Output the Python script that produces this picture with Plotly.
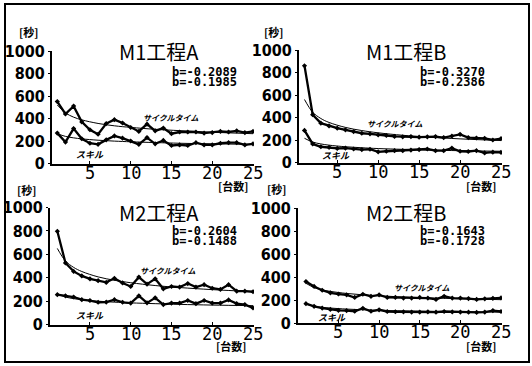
import plotly.graph_objects as go

units = list(range(1, 26))

# M1工程A
p1_cycle = [550, 440, 510, 370, 300, 260, 355, 390, 360, 320, 285, 350, 290, 315, 265, 280, 280, 280, 270, 275, 285, 280, 290, 275, 285]
p1_skill = [270, 190, 310, 220, 180, 170, 210, 245, 225, 200, 170, 230, 175, 205, 160, 165, 160, 185, 165, 165, 180, 185, 185, 165, 175]
# M1工程B
p2_cycle = [860, 425, 350, 325, 305, 290, 275, 260, 255, 245, 240, 232, 228, 230, 225, 228, 230, 222, 235, 250, 222, 218, 215, 200, 212]
p2_skill = [285, 165, 140, 135, 125, 128, 120, 115, 118, 95, 100, 105, 105, 110, 115, 120, 105, 105, 128, 100, 98, 105, 85, 92, 90]
# M2工程A
p3_cycle = [797, 526, 454, 415, 390, 375, 360, 395, 355, 325, 405, 345, 390, 305, 325, 320, 350, 320, 340, 310, 300, 340, 285, 285, 280]
p3_skill = [255, 245, 235, 212, 205, 190, 192, 212, 190, 183, 245, 185, 228, 170, 183, 183, 205, 178, 205, 183, 183, 210, 178, 170, 142]
# M2工程B
p4_cycle = [360, 318, 285, 262, 252, 245, 222, 250, 232, 245, 222, 222, 217, 217, 222, 217, 205, 232, 217, 217, 212, 205, 210, 215, 218]
p4_skill = [168, 145, 130, 118, 110, 108, 102, 128, 102, 115, 100, 98, 97, 95, 95, 97, 94, 100, 96, 95, 94, 92, 95, 108, 100]

# fitted learning curves
fit_x = [1, 2, 3, 4, 6, 8, 10, 13, 16, 20, 25]
p1_cycle_fit = [520, 450, 412, 388, 356, 335, 321, 304, 292, 278, 265]
p1_skill_fit = [265, 241, 228, 219, 207, 199, 193, 186, 180, 175, 170]
p2_cycle_fit = [560, 447, 391, 356, 312, 284, 264, 242, 226, 210, 195]
p2_skill_fit = [215, 182, 165, 154, 140, 131, 124, 117, 111, 105, 100]
p3_cycle_fit = [650, 543, 488, 453, 407, 378, 357, 333, 316, 298, 281]
p3_skill_fit = [260, 235, 221, 212, 199, 191, 185, 178, 172, 166, 161]
p4_cycle_fit = [345, 308, 288, 275, 257, 245, 237, 226, 219, 211, 203]
p4_skill_fit = [165, 146, 136, 130, 121, 115, 110, 105, 102, 98, 94]

titles = ["M1工程A", "M1工程B", "M2工程A", "M2工程B"]
b_labels = [["b=-0.2089", "b=-0.1985"], ["b=-0.3270", "b=-0.2386"],
            ["b=-0.2604", "b=-0.1488"], ["b=-0.1643", "b=-0.1728"]]
y_ticks = [0, 200, 400, 600, 800, 1000]
x_ticks = [5, 10, 15, 20, 25]
cycle_label = "サイクルタイム"
skill_label = "スキル"
y_unit = "[秒]"
x_unit = "[台数]"

W, H = 532, 366
def px(x): return x / W
def py(y): return 1 - y / H

panels = [
    dict(c=p1_cycle, s=p1_skill, cf=p1_cycle_fit, sf=p1_skill_fit,
         xd=[52, 254], yd=[163.5, 51], xr=[0.35, 25.12], xt=173,
         title=(159, 52), b=(170, 72), cl=(170, 117), sl=(90, 154), yu=(28, 32), xu=(233, 186)),
    dict(c=p2_cycle, s=p2_skill, cf=p2_cycle_fit, sf=p2_skill_fit,
         xd=[299, 502], yd=[162.5, 50], xr=[0.33, 25.12], xt=172,
         title=(406, 52), b=(418, 72), cl=(394, 123), sl=(336, 155), yu=(273, 32), xu=(481, 186)),
    dict(c=p3_cycle, s=p3_skill, cf=p3_cycle_fit, sf=p3_skill_fit,
         xd=[50, 254], yd=[324.5, 207.5], xr=[0.1, 25.12], xt=333.5,
         title=(159, 212), b=(170, 231), cl=(167, 270), sl=(90, 315), yu=(26, 190), xu=(231, 346)),
    dict(c=p4_cycle, s=p4_skill, cf=p4_cycle_fit, sf=p4_skill_fit,
         xd=[298, 502], yd=[323, 208], xr=[0.02, 25.12], xt=332,
         title=(406, 212), b=(418, 231), cl=(421, 287), sl=(332, 317), yu=(276, 189), xu=(481, 346)),
]

fig = go.Figure()
annotations = []
layout = {}

def note(x, y, text, size, family="Noto Sans CJK JP", xanchor="center", xref="paper"):
    annotations.append(dict(x=x, y=y, text=text, xref=xref, yref="paper", showarrow=False,
                            xanchor=xanchor, yanchor="middle",
                            font=dict(family=family, size=size, color="black")))

for i, p in enumerate(panels):
    n = "" if i == 0 else str(i + 1)
    xa, ya = "x" + n, "y" + n
    for ys in [p["c"], p["s"]]:
        fig.add_trace(go.Scatter(x=units, y=ys, mode="lines+markers", xaxis=xa, yaxis=ya,
                                 line=dict(color="black", width=2.3),
                                 marker=dict(symbol="diamond", size=4, color="black"),
                                 showlegend=False, hoverinfo="skip"))
    for ys in [p["cf"], p["sf"]]:
        fig.add_trace(go.Scatter(x=fit_x, y=ys, mode="lines", xaxis=xa, yaxis=ya,
                                 line=dict(color="black", width=1, shape="spline"),
                                 showlegend=False, hoverinfo="skip"))
    layout["xaxis" + n] = dict(domain=[px(p["xd"][0]), px(p["xd"][1])], range=p["xr"],
                               anchor=ya, tickvals=x_ticks, showticklabels=False,
                               showgrid=False, zeroline=False,
                               showline=True, linecolor="black", linewidth=1.5,
                               ticks="inside", ticklen=3, tickcolor="black")
    layout["yaxis" + n] = dict(domain=[py(p["yd"][0]), py(p["yd"][1])], range=[0, 1000],
                               anchor=xa, tickvals=y_ticks, showgrid=False, zeroline=False,
                               showline=True, linecolor="black", linewidth=2,
                               ticks="outside", ticklen=2, tickcolor="black",
                               tickfont=dict(family="DejaVu Sans Condensed", size=16, color="black",
                                             weight="bold"))
    # x tick labels placed just under the axis line
    for t in x_ticks:
        note(t, py(p["xt"]), str(t), 17, family="DejaVu Sans Mono", xref=xa)
    note(px(p["title"][0]), py(p["title"][1]), titles[i], 20)
    for j, t in enumerate(b_labels[i]):
        note(px(p["b"][0]), py(p["b"][1] + 10 * j), "<b>" + t + "</b>", 12,
             family="DejaVu Sans Mono", xanchor="left")
    note(px(p["cl"][0]), py(p["cl"][1]), "<b><i>" + cycle_label + "</i></b>", 8)
    note(px(p["sl"][0]), py(p["sl"][1]), "<b><i>" + skill_label + "</i></b>", 9)
    note(px(p["yu"][0]), py(p["yu"][1]), "<b>" + y_unit + "</b>", 11)
    note(px(p["xu"][0]), py(p["xu"][1]), "<b>" + x_unit + "</b>", 11)

fig.update_layout(width=W, height=H, margin=dict(l=0, r=0, t=0, b=0, autoexpand=False),
                  paper_bgcolor="white", plot_bgcolor="white",
                  annotations=annotations,
                  shapes=[dict(type="rect", xref="paper", yref="paper",
                               x0=px(5), x1=px(529), y0=py(362), y1=py(4),
                               line=dict(color="black", width=2))],
                  **layout)
fig.write_html("out.html", config={"displayModeBar": False},
               post_script="document.body.style.margin='0';document.body.style.overflow='hidden';")
